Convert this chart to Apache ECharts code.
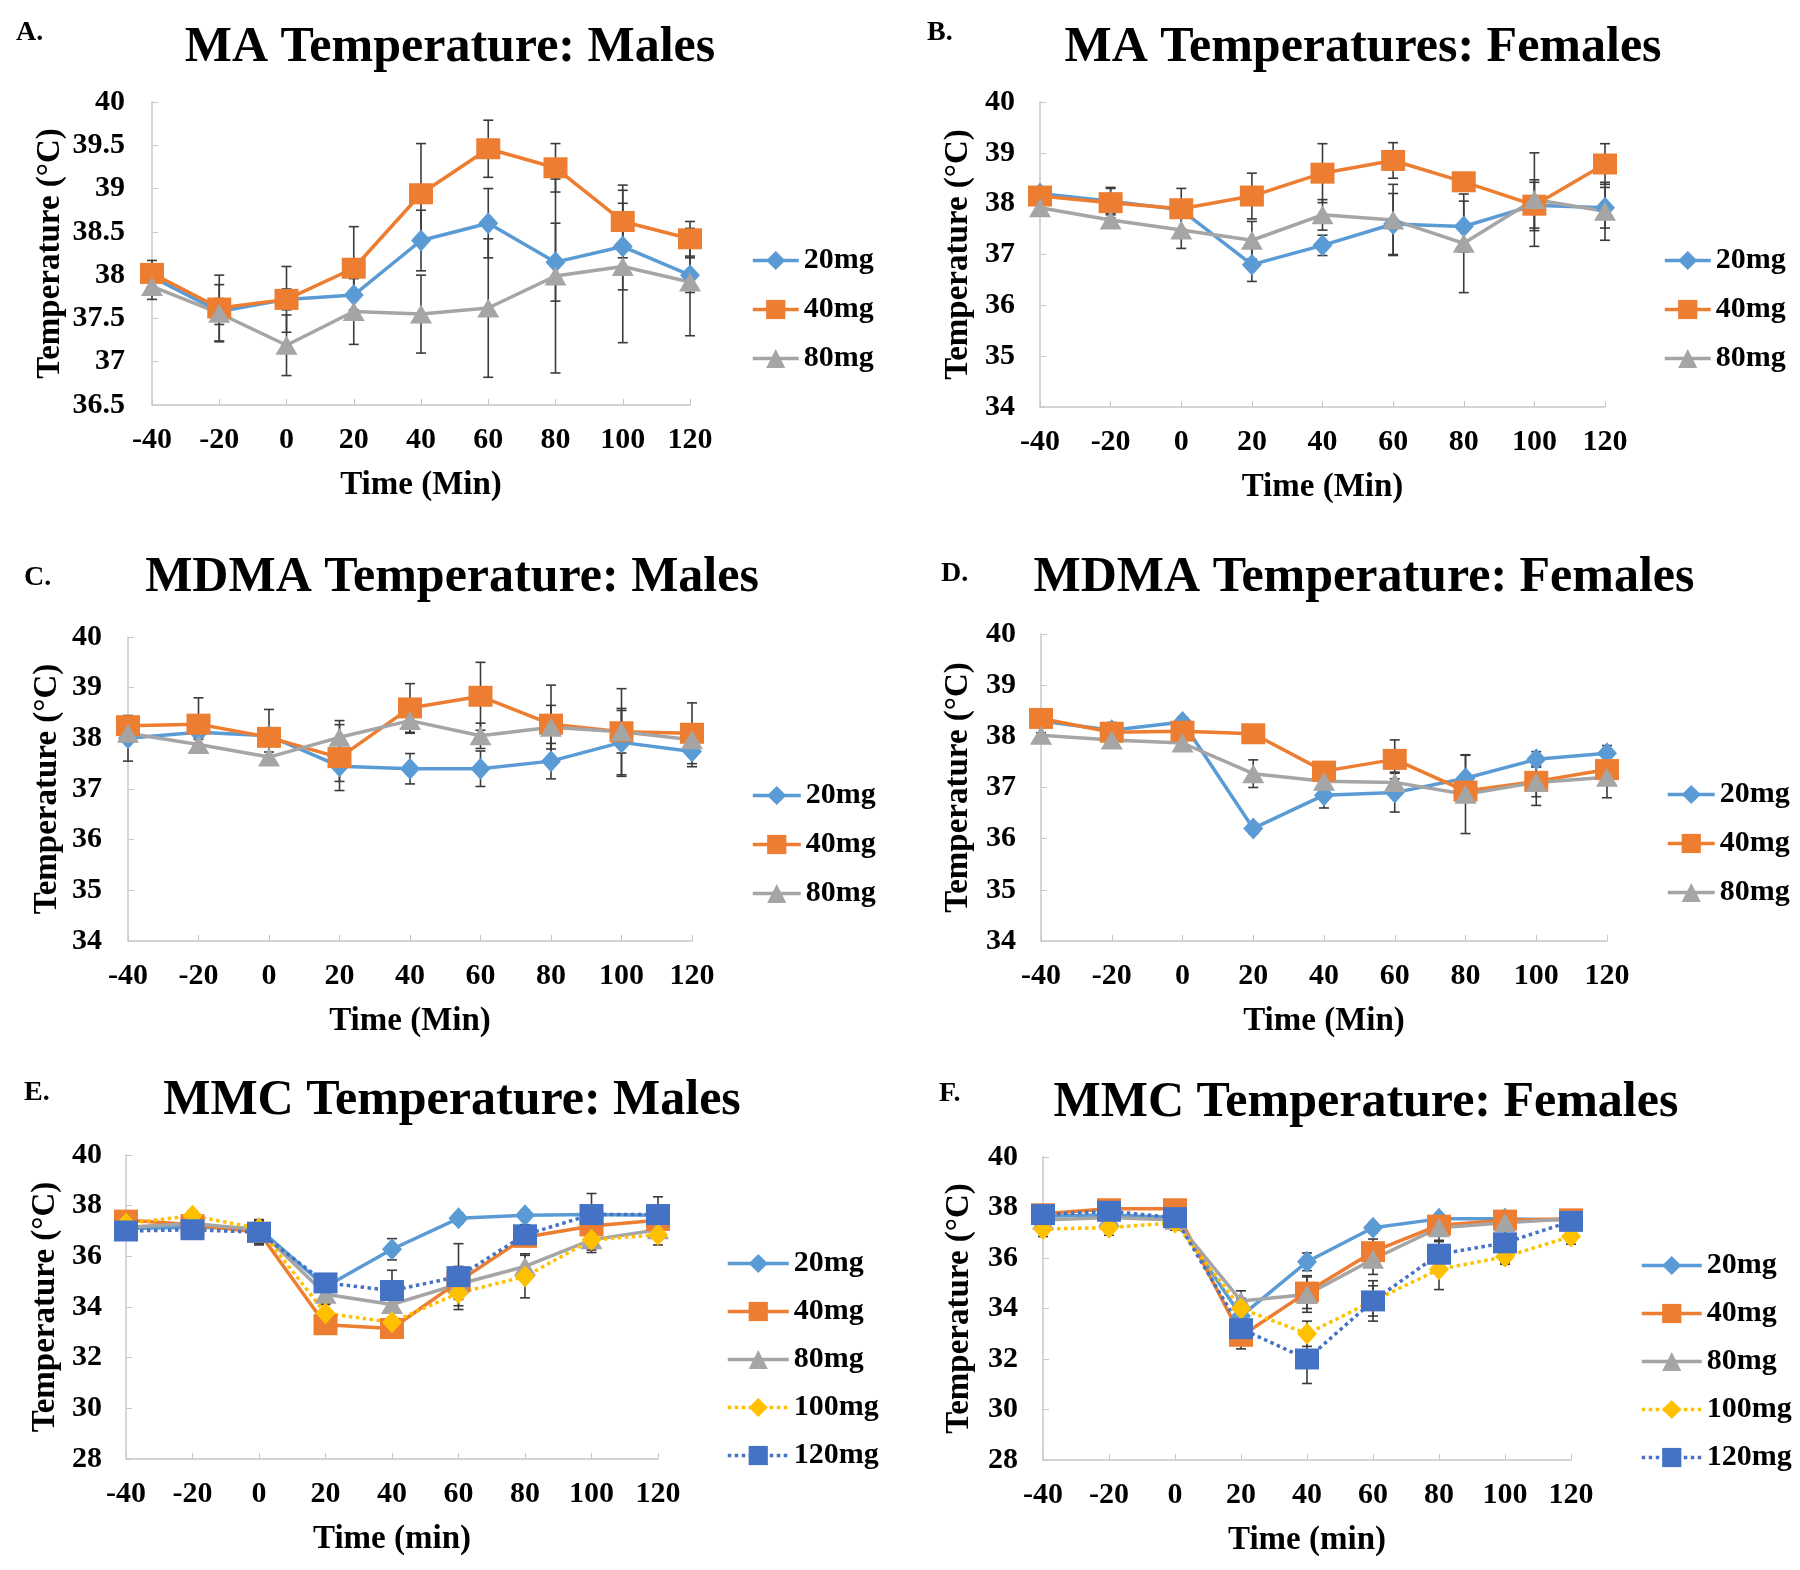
<!DOCTYPE html>
<html>
<head>
<meta charset="utf-8">
<title>Temperature panels</title>
<script src="https://cdn.jsdelivr.net/npm/echarts@6/dist/echarts.min.js"></script>
<style>
  html, body { margin: 0; padding: 0; background: #fff; }
  #chart { width: 1800px; height: 1570px; }
</style>
</head>
<body>
<div id="chart"></div>
<script>
// time points (min)
const times = ['-40', '-20', '0', '20', '40', '60', '80', '100', '120'];

// A. MA males
const A20  = [37.98, 37.58, 37.72, 37.77, 38.40, 38.60, 38.15, 38.33, 38.00];
const A20e = [0.12, 0.15, 0.12, 0.20, 0.35, 0.40, 0.45, 0.50, 0.20];
const A40  = [38.02, 37.62, 37.72, 38.08, 38.94, 39.46, 39.24, 38.62, 38.42];
const A40e = [0.15, 0.38, 0.38, 0.48, 0.58, 0.33, 0.28, 0.42, 0.20];
const A80  = [37.87, 37.56, 37.19, 37.58, 37.55, 37.62, 37.99, 38.10, 37.92];
const A80e = [0.15, 0.33, 0.35, 0.38, 0.45, 0.80, 1.12, 0.88, 0.62];

// B. MA females
const B20  = [38.20, 38.05, 37.88, 36.80, 37.18, 37.60, 37.55, 37.97, 37.92];
const B20e = [0.10, 0.25, 0.15, 0.33, 0.20, 0.60, 0.50, 0.45, 0.40];
const B40  = [38.15, 38.02, 37.90, 38.15, 38.60, 38.85, 38.43, 37.97, 38.78];
const B40e = [0.15, 0.30, 0.40, 0.45, 0.58, 0.35, 0.18, 0.50, 0.40];
const B80  = [37.92, 37.68, 37.48, 37.28, 37.78, 37.68, 37.22, 38.08, 37.85];
const B80e = [0.10, 0.10, 0.36, 0.37, 0.30, 0.70, 0.97, 0.92, 0.57];

// C. MDMA males
const C20  = [38.00, 38.12, 38.05, 37.45, 37.40, 37.40, 37.55, 37.92, 37.74];
const C20e = [0.45, 0.10, 0.10, 0.30, 0.30, 0.35, 0.35, 0.67, 0.30];
const C40  = [38.25, 38.28, 38.02, 37.62, 38.60, 38.83, 38.28, 38.13, 38.10];
const C40e = [0.10, 0.52, 0.55, 0.65, 0.48, 0.67, 0.77, 0.85, 0.60];
const C80  = [38.10, 37.88, 37.63, 38.02, 38.35, 38.05, 38.22, 38.13, 37.97];
const C80e = [0.10, 0.10, 0.10, 0.33, 0.25, 0.25, 0.43, 0.42, 0.20];

// D. MDMA females
const D20  = [38.30, 38.12, 38.28, 36.20, 36.85, 36.90, 37.18, 37.55, 37.67];
const D20e = [0.10, 0.15, 0.10, 0.10, 0.25, 0.38, 0.45, 0.15, 0.15];
const D40  = [38.35, 38.08, 38.10, 38.05, 37.32, 37.55, 36.93, 37.12, 37.35];
const D40e = [0.10, 0.10, 0.15, 0.10, 0.15, 0.38, 0.20, 0.30, 0.15];
const D80  = [38.02, 37.93, 37.87, 37.27, 37.12, 37.10, 36.87, 37.10, 37.20];
const D80e = [0.05, 0.05, 0.10, 0.27, 0.10, 0.20, 0.77, 0.45, 0.40];

// E. MMC males
const E20   = [37.10, 37.15, 37.10, 34.80, 36.28, 37.50, 37.62, 37.65, 37.62];
const E20e  = [0.20, 0.20, 0.20, 0.30, 0.42, 0.20, 0.20, 0.30, 0.30];
const E40   = [37.43, 37.25, 36.95, 33.30, 33.15, 35.00, 36.75, 37.20, 37.42];
const E40e  = [0.30, 0.20, 0.50, 0.30, 0.30, 0.60, 0.30, 0.40, 0.30];
const E80   = [37.15, 37.30, 37.05, 34.50, 34.10, 34.90, 35.60, 36.65, 37.05];
const E80e  = [0.20, 0.20, 0.30, 0.40, 0.50, 0.60, 0.50, 0.40, 0.30];
const E100  = [37.30, 37.60, 37.10, 33.75, 33.40, 34.55, 35.20, 36.65, 36.85];
const E100e = [0.20, 0.20, 0.30, 0.40, 0.40, 0.50, 0.84, 0.50, 0.40];
const E120  = [37.00, 37.05, 36.95, 34.95, 34.65, 35.20, 36.85, 37.65, 37.65];
const E120e = [0.30, 0.30, 0.45, 0.30, 0.80, 1.30, 0.40, 0.83, 0.70];

// F. MMC females
const F20   = [37.65, 37.70, 37.60, 33.70, 35.85, 37.20, 37.55, 37.55, 37.50];
const F20e  = [0.20, 0.20, 0.20, 0.50, 0.35, 0.20, 0.20, 0.20, 0.20];
const F40   = [37.75, 37.95, 37.95, 32.90, 34.65, 36.25, 37.30, 37.50, 37.55];
const F40e  = [0.20, 0.30, 0.30, 0.50, 0.65, 0.50, 0.30, 0.30, 0.30];
const F80   = [37.50, 37.60, 37.50, 34.30, 34.55, 35.95, 37.20, 37.40, 37.55];
const F80e  = [0.20, 0.20, 0.20, 0.40, 0.70, 0.60, 0.50, 0.30, 0.20];
const F100  = [37.15, 37.20, 37.40, 34.00, 33.00, 34.30, 35.55, 36.05, 36.85];
const F100e = [0.30, 0.30, 0.30, 0.40, 0.50, 0.60, 0.80, 0.30, 0.30];
const F120  = [37.72, 37.85, 37.60, 33.20, 32.00, 34.30, 36.15, 36.60, 37.45];
const F120e = [0.30, 0.30, 0.40, 0.50, 0.97, 0.80, 0.50, 0.80, 0.40];

const serif = '"Liberation Serif", "Times New Roman", serif';

const doseStyle = {
  '20mg':  { color: '#5B9BD5', symbol: 'diamond',  size: [20, 22], type: 'solid' },
  '40mg':  { color: '#ED7D31', symbol: 'rect',     size: [24, 21], type: 'solid' },
  '80mg':  { color: '#A5A5A5', symbol: 'triangle', size: [22, 19], type: 'solid' },
  '100mg': { color: '#FFC000', symbol: 'diamond',  size: [20, 22], type: 'dotted' },
  '120mg': { color: '#4472C4', symbol: 'rect',     size: [24, 21], type: 'dotted' }
};

const panels = [
  { tag: 'A.', title: 'MA Temperature: Males', xName: 'Time (Min)',
    grid: { left: 152, top: 102, width: 538, height: 303 }, y: [36.5, 40, 0.5],
    titleX: 445, titleY: 18, tagX: 11, tagY: 14, yGap: 85, yMargin: 27,
    legend: { left: 746, top: 240, w: 46, gap: 18 },
    series: [['20mg', A20, A20e], ['40mg', A40, A40e], ['80mg', A80, A80e]] },
  { tag: 'B.', title: 'MA Temperatures: Females', xName: 'Time (Min)',
    grid: { left: 1040, top: 102, width: 565, height: 305 }, y: [34, 40, 1],
    titleX: 1358, titleY: 18, tagX: 922, tagY: 14, yGap: 65, yMargin: 25,
    legend: { left: 1658, top: 240, w: 46, gap: 18 },
    series: [['20mg', B20, B20e], ['40mg', B40, B40e], ['80mg', B80, B80e]] },
  { tag: 'C.', title: 'MDMA Temperature: Males', xName: 'Time (Min)',
    grid: { left: 128, top: 637, width: 564, height: 304 }, y: [34, 40, 1],
    titleX: 447, titleY: 548, tagX: 19, tagY: 559, yGap: 64, yMargin: 26,
    legend: { left: 746, top: 775, w: 48, gap: 18 },
    series: [['20mg', C20, C20e], ['40mg', C40, C40e], ['80mg', C80, C80e]] },
  { tag: 'D.', title: 'MDMA Temperature: Females', xName: 'Time (Min)',
    grid: { left: 1041, top: 634, width: 566, height: 307 }, y: [34, 40, 1],
    titleX: 1359, titleY: 548, tagX: 936, tagY: 555, yGap: 66, yMargin: 25,
    legend: { left: 1661, top: 774, w: 47, gap: 18 },
    series: [['20mg', D20, D20e], ['40mg', D40, D40e], ['80mg', D80, D80e]] },
  { tag: 'E.', title: 'MMC Temperature: Males', xName: 'Time (min)',
    grid: { left: 126, top: 1155, width: 532, height: 304 }, y: [28, 40, 2],
    titleX: 447, titleY: 1071, tagX: 19, tagY: 1074, yGap: 64, yMargin: 24,
    legend: { left: 721, top: 1243, w: 61, gap: 17 },
    series: [['20mg', E20, E20e], ['40mg', E40, E40e], ['80mg', E80, E80e],
             ['100mg', E100, E100e], ['120mg', E120, E120e]] },
  { tag: 'F.', title: 'MMC Temperature: Females', xName: 'Time (min)',
    grid: { left: 1043, top: 1157, width: 528, height: 303 }, y: [28, 40, 2],
    titleX: 1361, titleY: 1073, tagX: 934, tagY: 1075, yGap: 67, yMargin: 25,
    legend: { left: 1635, top: 1245, w: 60, gap: 17 },
    series: [['20mg', F20, F20e], ['40mg', F40, F40e], ['80mg', F80, F80e],
             ['100mg', F100, F100e], ['120mg', F120, F120e]] }
];

function errorBar(params, api) {
  const hi = api.coord([api.value(0), api.value(2)]);
  const lo = api.coord([api.value(0), api.value(1)]);
  const cap = 5;
  const st = { stroke: '#3b3b3b', lineWidth: 1.6 };
  return {
    type: 'group',
    children: [
      { type: 'line', shape: { x1: hi[0], y1: hi[1], x2: lo[0], y2: lo[1] }, style: st },
      { type: 'line', shape: { x1: hi[0] - cap, y1: hi[1], x2: hi[0] + cap, y2: hi[1] }, style: st },
      { type: 'line', shape: { x1: lo[0] - cap, y1: lo[1], x2: lo[0] + cap, y2: lo[1] }, style: st }
    ]
  };
}

const axisGray = '#C8C8C8';
const option = {
  backgroundColor: '#fff',
  animation: false,
  title: [], grid: [], xAxis: [], yAxis: [], legend: [], series: []
};

panels.forEach((p, k) => {
  option.title.push({
    text: p.title, left: p.titleX, top: p.titleY, textAlign: 'center',
    textStyle: { fontFamily: serif, fontWeight: 'bold', fontSize: 50, color: '#000' }
  });
  option.title.push({
    text: p.tag, left: p.tagX, top: p.tagY,
    textStyle: { fontFamily: serif, fontWeight: 'bold', fontSize: 28, color: '#000' }
  });
  option.grid.push(p.grid);
  option.xAxis.push({
    type: 'category', gridIndex: k, data: times, boundaryGap: false,
    name: p.xName, nameLocation: 'middle', nameGap: 64,
    nameTextStyle: { fontFamily: serif, fontWeight: 'bold', fontSize: 33, color: '#000' },
    axisLine: { lineStyle: { color: axisGray, width: 1.5 } },
    axisTick: { inside: true, length: 6, lineStyle: { color: axisGray } },
    axisLabel: { interval: 0, margin: 20, fontFamily: serif, fontWeight: 'bold', fontSize: 30, color: '#000' },
    splitLine: { show: false }
  });
  option.yAxis.push({
    type: 'value', gridIndex: k, min: p.y[0], max: p.y[1], interval: p.y[2],
    name: 'Temperature (°C)', nameLocation: 'middle', nameGap: p.yGap,
    nameTextStyle: { fontFamily: serif, fontWeight: 'bold', fontSize: 33, color: '#000' },
    axisLine: { show: true, lineStyle: { color: axisGray, width: 1.5 } },
    axisTick: { show: true, inside: true, length: 6, lineStyle: { color: axisGray } },
    axisLabel: { margin: p.yMargin, fontFamily: serif, fontWeight: 'bold', fontSize: 30, color: '#000' },
    splitLine: { show: false }
  });
  option.legend.push({
    left: p.legend.left, top: p.legend.top, orient: 'vertical',
    itemWidth: p.legend.w, itemHeight: 24, itemGap: p.legend.gap,
    data: p.series.map(s => s[0]),
    lineStyle: { width: 3.5 },
    textStyle: { fontFamily: serif, fontWeight: 'bold', fontSize: 30, color: '#000', lineHeight: 31 }
  });
  p.series.forEach(([dose, vals, errs]) => {
    option.series.push({
      name: 'err' + k + dose, type: 'custom', xAxisIndex: k, yAxisIndex: k, z: 1,
      renderItem: errorBar, encode: { x: 0, y: [1, 2] },
      data: vals.map((v, i) => [i, v - errs[i], v + errs[i]])
    });
  });
  p.series.forEach(([dose, vals]) => {
    const st = doseStyle[dose];
    option.series.push({
      name: dose, type: 'line', xAxisIndex: k, yAxisIndex: k, z: 3,
      data: vals, symbol: st.symbol, symbolSize: st.size, showSymbol: true,
      lineStyle: { color: st.color, width: 3.5, type: st.type },
      itemStyle: { color: st.color },
      emphasis: { disabled: true }
    });
  });
});

const chart = echarts.init(document.getElementById('chart'));
chart.setOption(option);
</script>
</body>
</html>
